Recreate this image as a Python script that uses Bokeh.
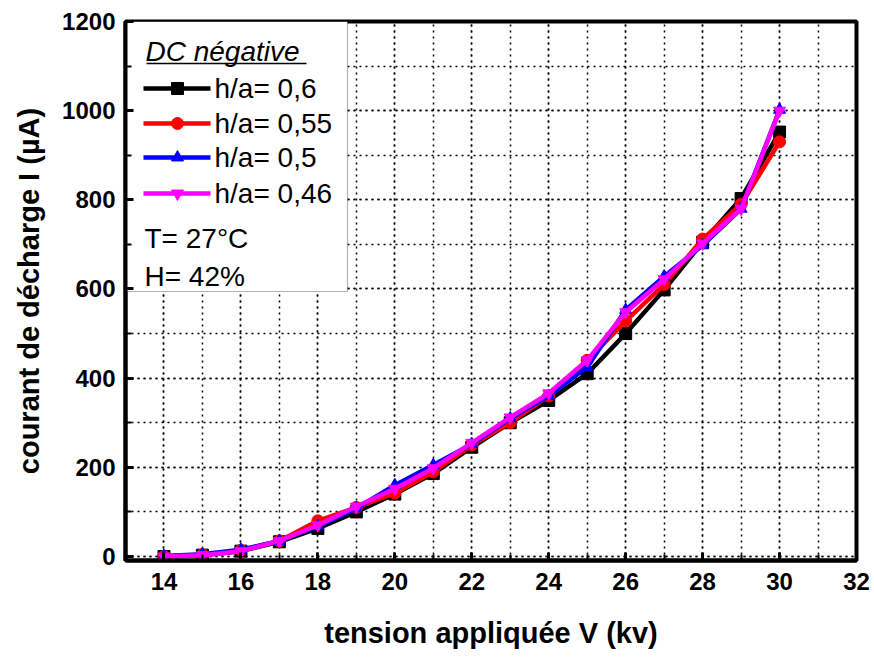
from bokeh.plotting import figure
from bokeh.models import SingleIntervalTicker, Label, BoxAnnotation
from bokeh.embed import file_html
from bokeh.resources import INLINE

# ---- data ----
voltage_kv = [14, 15, 16, 17, 18, 19, 20, 21, 22, 23, 24, 25, 26, 27, 28, 29, 30]
current_h060 = [0, 3, 12, 33, 63, 100, 140, 186, 245, 300, 350, 410, 500, 598, 705, 803, 952]
current_h055 = [0, 4, 14, 35, 80, 110, 142, 190, 250, 300, 360, 440, 528, 610, 712, 790, 930]
current_h050 = [1, 5, 15, 35, 68, 108, 160, 205, 252, 310, 360, 425, 553, 628, 698, 780, 1002]
current_h046 = [0, 3, 12, 35, 70, 112, 152, 198, 255, 312, 366, 440, 548, 622, 702, 780, 1000]
series_labels = ["h/a= 0,6", "h/a= 0,55", "h/a= 0,5", "h/a= 0,46"]
legend_title = "DC négative"
extra_notes = ["T= 27°C", "H= 42%"]
x_title = "tension appliquée V (kv)"
y_title = "courant de décharge I (µA)"

# ---- styles / layout ----
colors = ["#000000", "#ff0000", "#0000ff", "#ff00ff"]
markers = ["square", "circle", "triangle", "inverted_triangle"]
XR = (13, 32)
YR = (-9, 1200)
FX0, FX1, FY0, FY1 = 125, 856, 21, 560
FONT = "Liberation Sans"

p = figure(frame_width=FX1 - FX0, frame_height=FY1 - FY0,
           min_border_left=FX0, min_border_right=874 - FX1,
           min_border_top=FY0, min_border_bottom=659 - FY1,
           x_range=XR, y_range=YR, output_backend="svg",
           toolbar_location=None)
p.background_fill_color = "white"
p.border_fill_color = "white"
p.outline_line_color = "black"
p.outline_line_width = 4

def dx(px):
    return XR[0] + (px - FX0) / (FX1 - FX0) * (XR[1] - XR[0])

def dy(py):
    return YR[1] - (py - FY0) / (FY1 - FY0) * (YR[1] - YR[0])

# axes
p.xaxis.ticker = SingleIntervalTicker(interval=2, num_minor_ticks=2)
p.yaxis.ticker = SingleIntervalTicker(interval=200, num_minor_ticks=2)
for ax in (p.xaxis[0], p.yaxis[0]):
    ax.axis_line_width = 4
    ax.axis_line_color = "black"
    ax.major_tick_in = 8
    ax.major_tick_out = 0
    ax.minor_tick_in = 6
    ax.minor_tick_out = 0
    ax.major_tick_line_width = 3
    ax.minor_tick_line_width = 2
    ax.major_label_text_font = FONT
    ax.major_label_text_font_style = "bold"
    ax.major_label_text_font_size = "24px"
    ax.major_label_text_color = "black"
    ax.axis_label_text_font = FONT
    ax.axis_label_text_font_style = "bold"
    ax.axis_label_text_font_size = "29px"
    ax.axis_label_text_color = "black"
p.xaxis.axis_label = x_title
p.yaxis.axis_label = y_title
p.xaxis.major_label_standoff = 12
p.xaxis.axis_label_standoff = 24
p.yaxis.major_label_standoff = 10
p.yaxis.axis_label_standoff = 14

for g in (p.xgrid[0], p.ygrid[0]):
    g.grid_line_color = "black"
    g.grid_line_dash = "2 4"
    g.grid_line_width = 1.5
    g.minor_grid_line_color = "black"
    g.minor_grid_line_dash = "2 4"
    g.minor_grid_line_width = 1.5

# legend box (manual), drawn beneath glyphs but above the grid
p.add_layout(BoxAnnotation(left=dx(FX0), right=dx(347), top=dy(FY0), bottom=dy(291),
                           fill_color="white", fill_alpha=1.0,
                           line_color="black", line_width=1.2, level="underlay"))

# data
all_series = [current_h060, current_h055, current_h050, current_h046]
for ys, c, m in zip(all_series, colors, markers):
    p.line(voltage_kv, ys, line_color=c, line_width=4.5)
    p.scatter(voltage_kv, ys, marker=m, size=12, fill_color=c, line_color=c)

p.add_layout(Label(x=dx(145), y=dy(51), text=legend_title, text_font=FONT,
                   text_font_style="italic", text_font_size="28px",
                   text_baseline="middle", text_align="left", text_color="black"))
p.line([dx(146), dx(306)], [dy(63), dy(63)], line_color="black", line_width=1.5)

row_y = [88, 123, 157, 193]
for lab, c, m, ry in zip(series_labels, colors, markers, row_y):
    p.line([dx(143), dx(210)], [dy(ry), dy(ry)], line_color=c, line_width=4.5)
    p.scatter([dx(177)], [dy(ry)], marker=m, size=12, fill_color=c, line_color=c)
    p.add_layout(Label(x=dx(214), y=dy(ry), text=lab, text_font=FONT,
                       text_font_size="28px", text_baseline="middle",
                       text_align="left", text_color="black"))

for note, ny in zip(extra_notes, [238, 276]):
    p.add_layout(Label(x=dx(144), y=dy(ny), text=note, text_font=FONT,
                       text_font_size="28px", text_baseline="middle",
                       text_align="left", text_color="black"))

open("out.html", "w").write(file_html(p, INLINE))
